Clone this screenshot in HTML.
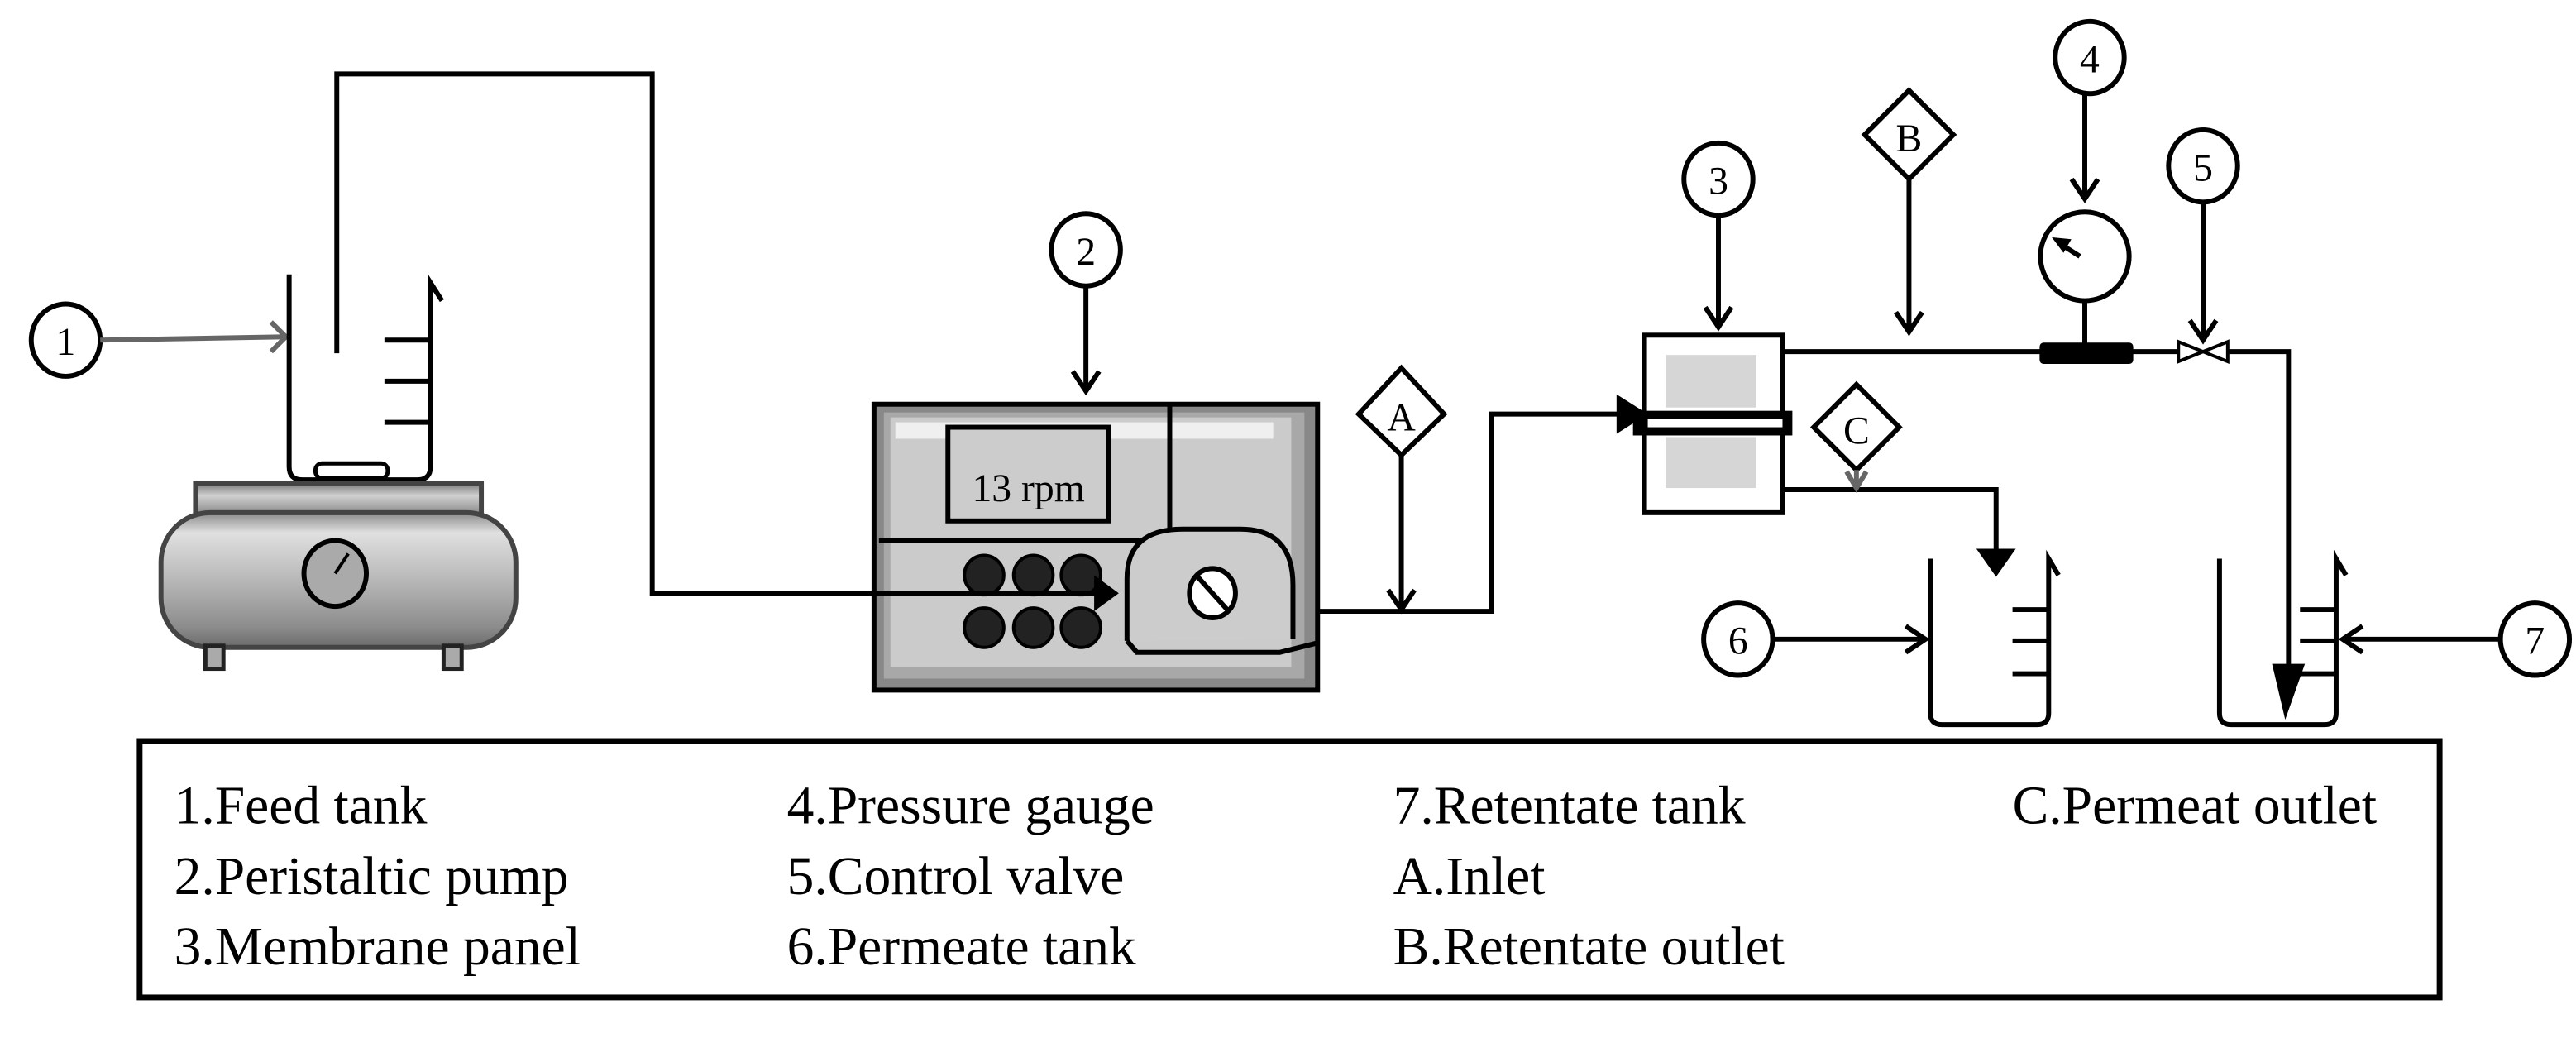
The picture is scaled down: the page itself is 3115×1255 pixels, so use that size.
<!DOCTYPE html>
<html><head><meta charset="utf-8"><style>
html,body{margin:0;padding:0;background:#fff;}
svg{display:block;}
text{font-family:"Liberation Serif",serif;}
</style></head><body>
<svg width="3115" height="1255" viewBox="0 0 1568 631.7" preserveAspectRatio="none" xmlns="http://www.w3.org/2000/svg">
<defs>
<linearGradient id="tank" x1="0" y1="0" x2="0" y2="1">
<stop offset="0" stop-color="#8a8a8a"/><stop offset="0.15" stop-color="#e0e0e0"/><stop offset="0.5" stop-color="#b8b8b8"/><stop offset="0.85" stop-color="#8c8c8c"/><stop offset="1" stop-color="#6a6a6a"/></linearGradient>
<linearGradient id="plate" x1="0" y1="0" x2="0" y2="1">
<stop offset="0" stop-color="#777"/><stop offset="0.4" stop-color="#d0d0d0"/><stop offset="1" stop-color="#888"/></linearGradient>
</defs>
<g fill="none" stroke="#000" stroke-width="3">
<!-- item 1 -->
<ellipse cx="40" cy="207" rx="21" ry="22" fill="#fff"/>
<text x="40" y="216" font-size="24" text-anchor="middle" stroke="none" fill="#000">1</text>
<line x1="61" y1="207" x2="174" y2="205" stroke="#666"/>
<polyline points="165,196 174,205 165,214" stroke="#666"/>
<!-- feed beaker -->
<path d="M176,167 V284 Q176,292 184,292 H254 Q262,292 262,284 V172 L269,183"/>
<line x1="234" y1="207" x2="262" y2="207"/><line x1="234" y1="232" x2="262" y2="232"/><line x1="234" y1="257" x2="262" y2="257"/>
<rect x="192" y="282" width="44" height="9" rx="4" fill="#fff" stroke-width="2.5"/>
<!-- hot plate -->
<rect x="119" y="294" width="174" height="19" fill="url(#plate)" stroke="#444"/>
<rect x="98" y="312" width="216" height="82" rx="30" fill="url(#tank)" stroke="#444"/>
<rect x="125" y="393" width="11" height="14" fill="#aaa" stroke="#222" stroke-width="2.5"/>
<rect x="270" y="393" width="11" height="14" fill="#aaa" stroke="#222" stroke-width="2.5"/>
<ellipse cx="204" cy="349" rx="19" ry="20" fill="#aaa"/>
<line x1="204" y1="349" x2="212" y2="337" stroke-width="2"/>
<!-- pump -->
<rect x="532" y="246" width="270" height="174" fill="#888"/>
<rect x="538" y="251" width="256" height="162" fill="#a8a8a8" stroke="none"/>
<rect x="542" y="254" width="244" height="152" fill="#cbcbcb" stroke="none"/>
<rect x="545" y="257" width="230" height="10" fill="#efefef" stroke="none"/>
<rect x="577" y="260" width="98" height="57" fill="#ccc"/>
<text x="626" y="305" font-size="24" text-anchor="middle" stroke="none" fill="#000">13 rpm</text>
<polyline points="712,246 712,329 535,329"/>
<g fill="#222" stroke-width="2">
<ellipse cx="599" cy="350" rx="12" ry="12"/><ellipse cx="629" cy="350" rx="12" ry="12"/><ellipse cx="658" cy="350" rx="12" ry="12"/>
<ellipse cx="599" cy="382" rx="12" ry="12"/><ellipse cx="629" cy="382" rx="12" ry="12"/><ellipse cx="658" cy="382" rx="12" ry="12"/>
</g>
<!-- feed line (drawn over pump) -->
<polyline points="205,215 205,45 397,45 397,361 670,361"/>
<polygon points="666,350 681,361 666,372" fill="#000" stroke="none"/>
<path d="M686,390 V352 Q686,322 720,322 H755 Q787,322 787,356 V389" fill="#ccc"/>
<path d="M686,390 L692,397 H779 L803,391"/>
<ellipse cx="738" cy="361" rx="14" ry="15" fill="#fff"/>
<line x1="729" y1="351" x2="747" y2="371"/>
<!-- item 2 -->
<ellipse cx="661" cy="152" rx="21" ry="22" fill="#fff"/>
<text x="661" y="161" font-size="24" text-anchor="middle" stroke="none" fill="#000">2</text>
<line x1="661" y1="174" x2="661" y2="238"/>
<polyline points="653,226 661,238 669,226"/>
<!-- outlet line -->
<polyline points="802,372 908,372 908,252 990,252"/>
<polygon points="984,240 1003,252 984,264" fill="#000" stroke="none"/>
<!-- A -->
<polygon points="853,224 879,252 853,277 827,252" fill="#fff"/>
<text x="853" y="262" font-size="24" text-anchor="middle" stroke="none" fill="#000">A</text>
<line x1="853" y1="277" x2="853" y2="371"/>
<polyline points="845,359 853,371 861,359"/>
<!-- membrane -->
<rect x="1001" y="204" width="84" height="108" fill="#fff"/>
<rect x="1014" y="216" width="55" height="32" fill="#d6d6d6" stroke="none"/>
<rect x="1014" y="266" width="55" height="31" fill="#d6d6d6" stroke="none"/>
<rect x="994" y="250" width="97" height="15" fill="#000" stroke="none"/>
<rect x="1003" y="255" width="82" height="5" fill="#fff" stroke="none"/>
<!-- 3 -->
<ellipse cx="1046" cy="109" rx="21" ry="22" fill="#fff"/>
<text x="1046" y="118" font-size="24" text-anchor="middle" stroke="none" fill="#000">3</text>
<line x1="1046" y1="131" x2="1046" y2="199"/>
<polyline points="1038,187 1046,199 1054,187"/>
<!-- retentate line -->
<line x1="1085" y1="214" x2="1243" y2="214"/>
<rect x="1243" y="210" width="54" height="10" fill="#000" rx="1"/>
<line x1="1297" y1="214" x2="1326" y2="214"/>
<polygon points="1326,208 1356,220 1356,208 1326,220" fill="#fff" stroke-width="2"/>
<polyline points="1356,214 1393,214 1393,420"/>
<polygon points="1383,404 1403,404 1391,438" fill="#000" stroke="none"/>
<!-- B -->
<polygon points="1162,55 1189,82 1162,109 1135,82" fill="#fff"/>
<text x="1162" y="92" font-size="24" text-anchor="middle" stroke="none" fill="#000">B</text>
<line x1="1162" y1="109" x2="1162" y2="202"/>
<polyline points="1154,190 1162,202 1170,190"/>
<!-- gauge -->
<ellipse cx="1269" cy="156" rx="27" ry="27" fill="#fff"/>
<line x1="1269" y1="183" x2="1269" y2="210"/>
<line x1="1266" y1="156" x2="1255" y2="149" stroke-width="3"/>
<polygon points="1250,145 1260,146 1256,153" fill="#000" stroke-width="1"/>
<!-- 4 -->
<ellipse cx="1272" cy="35" rx="21" ry="22" fill="#fff"/>
<text x="1272" y="44" font-size="24" text-anchor="middle" stroke="none" fill="#000">4</text>
<line x1="1269" y1="57" x2="1269" y2="121"/>
<polyline points="1261,109 1269,121 1277,109"/>
<!-- 5 -->
<ellipse cx="1341" cy="101" rx="21" ry="22" fill="#fff"/>
<text x="1341" y="110" font-size="24" text-anchor="middle" stroke="none" fill="#000">5</text>
<line x1="1341" y1="123" x2="1341" y2="207"/>
<polyline points="1333,195 1341,207 1349,195"/>
<!-- permeate line -->
<polyline points="1085,298 1215,298 1215,336"/>
<polygon points="1203,334 1227,334 1215,351" fill="#000" stroke="none"/>
<!-- C -->
<polygon points="1130,234 1156,260 1130,286 1104,260" fill="#fff"/>
<text x="1130" y="270" font-size="24" text-anchor="middle" stroke="none" fill="#000">C</text>
<line x1="1130" y1="286" x2="1130" y2="297" stroke="#666"/>
<polyline points="1124,287 1130,297 1136,287" stroke="#666"/>
<!-- beaker 6 -->
<path d="M1175,340 V434 Q1175,441 1182,441 H1240 Q1247,441 1247,434 V340 L1253,350"/>
<line x1="1225" y1="371" x2="1247" y2="371"/><line x1="1225" y1="390" x2="1247" y2="390"/><line x1="1225" y1="410" x2="1247" y2="410"/>
<ellipse cx="1058" cy="389" rx="21" ry="22" fill="#fff"/>
<text x="1058" y="398" font-size="24" text-anchor="middle" stroke="none" fill="#000">6</text>
<line x1="1079" y1="389" x2="1172" y2="389"/>
<polyline points="1160,381 1172,389 1160,397"/>
<!-- beaker 7 -->
<path d="M1351,340 V434 Q1351,441 1358,441 H1415 Q1422,441 1422,434 V340 L1428,350"/>
<line x1="1400" y1="371" x2="1422" y2="371"/><line x1="1400" y1="390" x2="1422" y2="390"/><line x1="1400" y1="410" x2="1422" y2="410"/>
<ellipse cx="1543" cy="389" rx="21" ry="22" fill="#fff"/>
<text x="1543" y="398" font-size="24" text-anchor="middle" stroke="none" fill="#000">7</text>
<line x1="1522" y1="389" x2="1426" y2="389"/>
<polyline points="1438,381 1426,389 1438,397"/>
<!-- legend -->
<rect x="85" y="451" width="1400" height="156" fill="#fff" stroke-width="3.5"/>
</g>
<g font-size="33" fill="#000" font-family="Liberation Serif, serif">
<text x="106" y="501">1.Feed tank</text>
<text x="106" y="544">2.Peristaltic pump</text>
<text x="106" y="587">3.Membrane panel</text>
<text x="479" y="501">4.Pressure gauge</text>
<text x="479" y="544">5.Control valve</text>
<text x="479" y="587">6.Permeate tank</text>
<text x="848" y="501">7.Retentate tank</text>
<text x="848" y="544">A.Inlet</text>
<text x="848" y="587">B.Retentate outlet</text>
<text x="1225" y="501">C.Permeat outlet</text>
</g>
</svg>
</body></html>
